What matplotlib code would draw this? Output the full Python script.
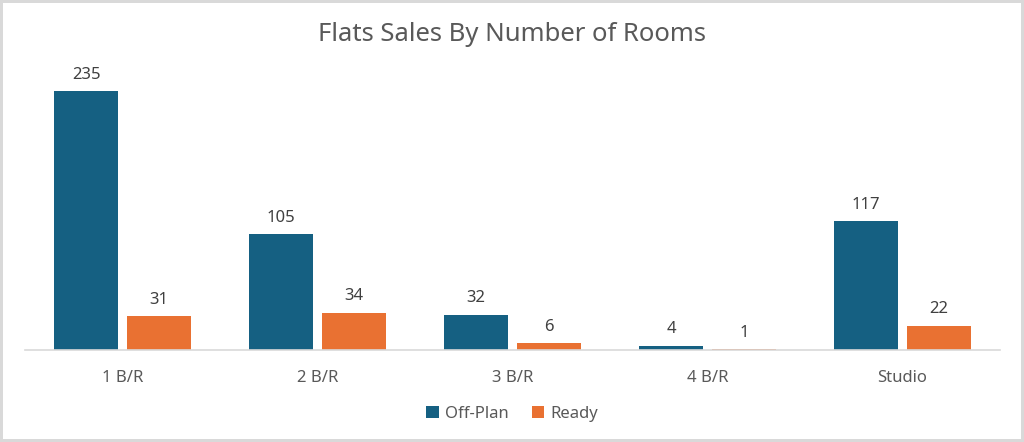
import matplotlib
matplotlib.use("Agg")
import matplotlib.pyplot as plt
import numpy as np

categories = ["1 B/R", "2 B/R", "3 B/R", "4 B/R", "Studio"]
off_plan = [235, 105, 32, 4, 117]
ready = [31, 34, 6, 1, 22]

plt.rcParams['font.family'] = ['Noto Sans', 'DejaVu Sans']

fig = plt.figure(figsize=(10.24, 4.42), dpi=100)
fig.patch.set_edgecolor('#d9d9d9')
fig.patch.set_linewidth(3)
ax = fig.add_axes([0.0245, 0.208, 0.952, 0.656])

x = np.arange(len(categories))
w = 0.325
off = 0.187
b1 = ax.bar(x - off, off_plan, w, color='#156082', label='Off-Plan')
b2 = ax.bar(x + off, ready, w, color='#E97132', label='Ready')
for bars in (b1, b2):
    ax.bar_label(bars, padding=6, fontsize=12, color='#404040')

ax.set_xlim(-0.5, len(categories) - 0.5)
ax.set_ylim(0, 263)
ax.set_xticks(x)
ax.set_xticklabels(categories, fontsize=12, color='#595959')
ax.tick_params(axis='x', length=0, pad=14)
ax.set_yticks([])
for s in ['top', 'right', 'left']:
    ax.spines[s].set_visible(False)
ax.spines['bottom'].set_color('#d9d9d9')
ax.spines['bottom'].set_linewidth(1.2)

fig.text(0.5, 0.922, "Flats Sales By Number of Rooms", ha='center', va='center',
         fontsize=18.5, color='#595959')
fig.legend(loc='center', bbox_to_anchor=(0.5, 0.064), ncol=2, frameon=False,
           fontsize=12, labelcolor='#595959', handlelength=0.75, handleheight=0.75,
           columnspacing=1.4, handletextpad=0.35)

fig.savefig("out.png", dpi=100)
